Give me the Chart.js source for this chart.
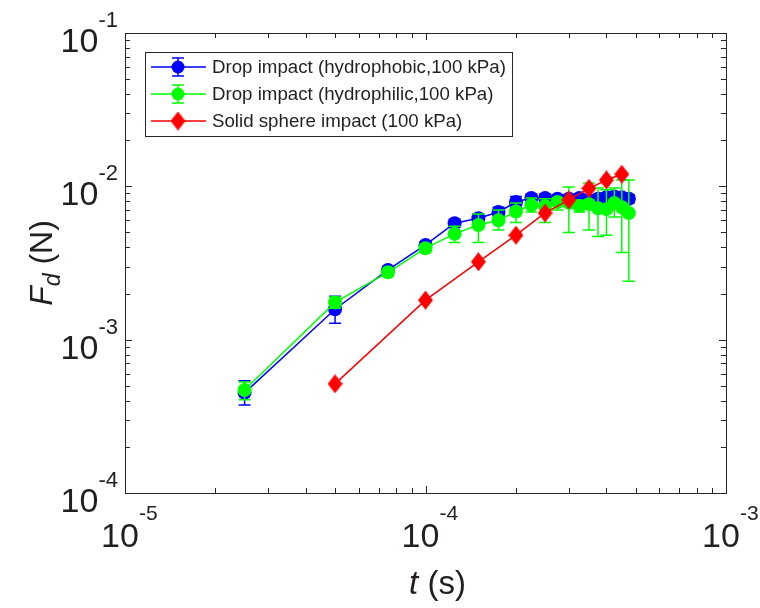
<!DOCTYPE html>
<html>
<head>
    <meta charset="utf-8"/>
    <title>Fd vs t</title>
    <script src="https://cdn.jsdelivr.net/npm/chart.js"></script>
    <style>
        body { margin: 0; background: #fff; }
        #wrap { width: 760px; height: 608px; }
    </style>
</head>
<body>
    <div id="wrap">
        <canvas id="fdChart" width="760" height="608"></canvas>
    </div>

    <script>
        // Tiempos (s)
        const tDrop = [2.5e-5, 5e-5, 7.5e-5, 1e-4, 1.25e-4, 1.5e-4, 1.75e-4, 2e-4, 2.25e-4, 2.5e-4,
                       2.75e-4, 3e-4, 3.25e-4, 3.5e-4, 3.75e-4, 4e-4, 4.25e-4, 4.5e-4, 4.75e-4];
        const tSolid = [5e-5, 1e-4, 1.5e-4, 2e-4, 2.5e-4, 3e-4, 3.5e-4, 4e-4, 4.5e-4];

        // Fuerza (N) - gota hidrofobica
        const fdPhobic   = [4.5e-4, 1.58e-3, 2.85e-3, 4.15e-3, 5.75e-3, 6.2e-3, 6.8e-3, 7.9e-3, 8.4e-3, 8.4e-3,
                            8.3e-3, 8.3e-3, 8.4e-3, 8.15e-3, 8.3e-3, 8.5e-3, 8.6e-3, 8.5e-3, 8.3e-3];
        const phobicHi   = [5.4e-4, 1.92e-3, 3.0e-3, 4.35e-3, 6.1e-3, 6.6e-3, 7.3e-3, 8.6e-3, 8.9e-3, 8.9e-3,
                            8.8e-3, 8.8e-3, 8.9e-3, 8.6e-3, 8.8e-3, 9.0e-3, 9.1e-3, 9.0e-3, 8.8e-3];
        const phobicLo   = [3.75e-4, 1.28e-3, 2.7e-3, 3.95e-3, 5.4e-3, 5.8e-3, 6.4e-3, 7.3e-3, 7.9e-3, 7.9e-3,
                            7.8e-3, 7.8e-3, 7.9e-3, 7.7e-3, 7.8e-3, 8.0e-3, 8.1e-3, 8.0e-3, 7.8e-3];

        // Fuerza (N) - gota hidrofilica
        const fdPhilic   = [4.7e-4, 1.75e-3, 2.75e-3, 3.95e-3, 4.9e-3, 5.6e-3, 6.0e-3, 6.85e-3, 7.55e-3, 7.45e-3,
                            7.9e-3, 7.8e-3, 7.45e-3, 7.65e-3, 7.2e-3, 7.1e-3, 7.8e-3, 7.3e-3, 6.7e-3];
        const philicHi   = [5.3e-4, 1.9e-3, 2.9e-3, 4.2e-3, 5.5e-3, 6.6e-3, 7.0e-3, 7.8e-3, 8.4e-3, 8.3e-3,
                            8.4e-3, 9.9e-3, 8.1e-3, 1.05e-2, 9.75e-3, 9.5e-3, 9.75e-3, 1.1e-2, 1.1e-2];
        const philicLo   = [4.05e-4, 1.6e-3, 2.6e-3, 3.7e-3, 4.3e-3, 4.3e-3, 5.2e-3, 5.8e-3, 6.8e-3, 5.8e-3,
                            7.0e-3, 5.0e-3, 6.8e-3, 5.2e-3, 4.7e-3, 4.8e-3, 6.3e-3, 3.7e-3, 2.4e-3];

        // Fuerza (N) - esfera solida
        const fdSolid    = [5.15e-4, 1.81e-3, 3.22e-3, 4.8e-3, 6.7e-3, 8.15e-3, 9.7e-3, 1.1e-2, 1.2e-2];

        // Ejes
        const xDecades = [1e-5, 1e-4, 1e-3];
        const xExp     = ['-5', '-4', '-3'];
        const yDecades = [1e-4, 1e-3, 1e-2, 1e-1];
        const yExp     = ['-4', '-3', '-2', '-1'];

        const legendLabels = [
            'Drop impact (hydrophobic,100 kPa)',
            'Drop impact (hydrophilic,100 kPa)',
            'Solid sphere impact (100 kPa)'
        ];

        const FONT = '"Liberation Sans", Arial, Helvetica, sans-serif';
        const AXIS = '#262626';
        const TEXT = '#231f20';

        const pts = (xs, ys) => xs.map((x, i) => ({ x: x, y: ys[i] }));

        // rombo (mas alto que ancho)
        function makeDiamond(w, h, color) {
            const c = document.createElement('canvas');
            c.width = w; c.height = h;
            const g = c.getContext('2d');
            g.fillStyle = color;
            g.beginPath();
            g.moveTo(w / 2, 0); g.lineTo(w, h / 2); g.lineTo(w / 2, h); g.lineTo(0, h / 2);
            g.closePath(); g.fill();
            return c;
        }
        const diamond = makeDiamond(15, 19, '#ff0000');

        // barras de error, antes de cada serie
        const errorBars = {
            id: 'errorBars',
            beforeDatasetDraw(chart, args) {
                const ds = chart.data.datasets[args.index];
                if (!ds.errHi) return;
                const xs = chart.scales.x, ys = chart.scales.y, ctx = chart.ctx;
                const a = chart.chartArea;
                ctx.save();
                ctx.beginPath();
                ctx.rect(a.left, a.top, a.right - a.left, a.bottom - a.top);
                ctx.clip();
                ctx.strokeStyle = ds.borderColor;
                ctx.lineWidth = 1.5;
                ds.data.forEach((p, i) => {
                    const px = xs.getPixelForValue(p.x);
                    const top = ys.getPixelForValue(ds.errHi[i]);
                    const bot = ys.getPixelForValue(ds.errLo[i]);
                    ctx.beginPath();
                    ctx.moveTo(px, top); ctx.lineTo(px, bot);
                    ctx.moveTo(px - 6, top); ctx.lineTo(px + 6, top);
                    ctx.moveTo(px - 6, bot); ctx.lineTo(px + 6, bot);
                    ctx.stroke();
                });
                ctx.restore();
            }
        };

        function minorValues(decades) {
            const out = [];
            for (let d = 0; d < decades.length - 1; d++) {
                for (let k = 2; k <= 9; k++) out.push(k * decades[d]);
            }
            return out;
        }

        // marco, marcas, etiquetas y leyenda
        const axesFrame = {
            id: 'axesFrame',
            afterDraw(chart) {
                const ctx = chart.ctx, a = chart.chartArea;
                const xs = chart.scales.x, ys = chart.scales.y;
                ctx.save();
                ctx.strokeStyle = AXIS;
                ctx.lineWidth = 1;

                // marcas hacia dentro, en los cuatro lados
                ctx.beginPath();
                const tick = (v, len, horiz) => {
                    if (horiz) {
                        const px = Math.round(xs.getPixelForValue(v)) + 0.5;
                        ctx.moveTo(px, a.bottom); ctx.lineTo(px, a.bottom - len);
                        ctx.moveTo(px, a.top); ctx.lineTo(px, a.top + len);
                    } else {
                        const py = Math.round(ys.getPixelForValue(v)) + 0.5;
                        ctx.moveTo(a.left, py); ctx.lineTo(a.left + len, py);
                        ctx.moveTo(a.right, py); ctx.lineTo(a.right - len, py);
                    }
                };
                xDecades.forEach(v => tick(v, 7, true));
                minorValues(xDecades).forEach(v => tick(v, 5, true));
                yDecades.forEach(v => tick(v, 7, false));
                minorValues(yDecades).forEach(v => tick(v, 5, false));
                ctx.stroke();

                ctx.strokeRect(Math.round(a.left) + 0.5, Math.round(a.top) + 0.5,
                               Math.round(a.right - a.left), Math.round(a.bottom - a.top));

                // etiquetas 10^n
                ctx.fillStyle = TEXT;
                ctx.textBaseline = 'alphabetic';
                xDecades.forEach((v, i) => {
                    const px = xs.getPixelForValue(v) - 5;
                    ctx.font = '34px ' + FONT;
                    ctx.textAlign = 'center';
                    ctx.fillText('10', px, a.bottom + 54);
                    const w = ctx.measureText('10').width;
                    ctx.font = '21px ' + FONT;
                    ctx.textAlign = 'left';
                    ctx.fillText(xExp[i], px + w / 2, a.bottom + 27);
                });
                yDecades.forEach((v, i) => {
                    const py = ys.getPixelForValue(v);
                    ctx.font = '22px ' + FONT;
                    ctx.textAlign = 'right';
                    ctx.fillText(yExp[i], a.left - 7, py - 6);
                    const w = ctx.measureText(yExp[i]).width;
                    ctx.font = '34px ' + FONT;
                    ctx.fillText('10', a.left - 7 - w, py + 19);
                });

                // titulo eje x: t (s)
                ctx.font = 'italic 33px ' + FONT;
                const tW = ctx.measureText('t').width;
                ctx.font = '33px ' + FONT;
                const sW = ctx.measureText(' (s)').width;
                let x0 = (a.left + a.right) / 2 + 12 - (tW + sW) / 2;
                ctx.textAlign = 'left';
                ctx.font = 'italic 33px ' + FONT;
                ctx.fillText('t', x0, 594);
                ctx.font = '33px ' + FONT;
                ctx.fillText(' (s)', x0 + tW, 594);

                // titulo eje y: F_d (N)
                ctx.save();
                ctx.translate(52, (a.top + a.bottom) / 2);
                ctx.rotate(-Math.PI / 2);
                ctx.font = 'italic 32px ' + FONT;
                const fW = ctx.measureText('F').width;
                ctx.font = 'italic 23px ' + FONT;
                const dW = ctx.measureText('d').width;
                ctx.font = '32px ' + FONT;
                const nW = ctx.measureText(' (N)').width;
                let y0 = -(fW + dW + nW) / 2;
                ctx.font = 'italic 32px ' + FONT;
                ctx.fillText('F', y0, 0);
                ctx.font = 'italic 23px ' + FONT;
                ctx.fillText('d', y0 + fW, 8);
                ctx.font = '32px ' + FONT;
                ctx.fillText(' (N)', y0 + fW + dW, 0);
                ctx.restore();

                // leyenda
                const L = { x: 145, y: 52, w: 367, h: 84 };
                ctx.fillStyle = '#fff';
                ctx.fillRect(L.x, L.y, L.w, L.h);
                ctx.strokeStyle = AXIS;
                ctx.lineWidth = 1;
                ctx.strokeRect(L.x + 0.5, L.y + 0.5, L.w, L.h);
                const colors = ['#0000ff', '#00ff00', '#ff0000'];
                const rows = [67, 94, 121];
                rows.forEach((ry, i) => {
                    ctx.strokeStyle = colors[i];
                    ctx.lineWidth = 1.5;
                    ctx.beginPath();
                    ctx.moveTo(151, ry); ctx.lineTo(206, ry);
                    if (i < 2) {
                        ctx.moveTo(178, ry - 9); ctx.lineTo(178, ry + 9);
                        ctx.moveTo(172, ry - 9); ctx.lineTo(184, ry - 9);
                        ctx.moveTo(172, ry + 9); ctx.lineTo(184, ry + 9);
                    }
                    ctx.stroke();
                    if (i < 2) {
                        ctx.fillStyle = colors[i];
                        ctx.beginPath();
                        ctx.arc(178, ry, 6.5, 0, Math.PI * 2);
                        ctx.fill();
                    } else {
                        ctx.drawImage(diamond, 178 - 7.5, ry - 9.5);
                    }
                    ctx.fillStyle = TEXT;
                    ctx.font = '18.7px ' + FONT;
                    ctx.textAlign = 'left';
                    ctx.textBaseline = 'middle';
                    ctx.fillText(legendLabels[i], 212, ry + 1);
                });
                ctx.restore();
            }
        };

        function setupChart() {
            const ctx = document.getElementById('fdChart').getContext('2d');
            new Chart(ctx, {
                type: 'line',
                data: {
                    datasets: [
                        {
                            label: legendLabels[0],
                            data: pts(tDrop, fdPhobic),
                            errHi: phobicHi, errLo: phobicLo,
                            borderColor: '#0000ff', backgroundColor: '#0000ff',
                            borderWidth: 1.5, pointRadius: 7, pointBorderWidth: 0,
                            order: 3
                        },
                        {
                            label: legendLabels[1],
                            data: pts(tDrop, fdPhilic),
                            errHi: philicHi, errLo: philicLo,
                            borderColor: '#00ff00', backgroundColor: '#00ff00',
                            borderWidth: 1.5, pointRadius: 7, pointBorderWidth: 0,
                            order: 2
                        },
                        {
                            label: legendLabels[2],
                            data: pts(tSolid, fdSolid),
                            borderColor: '#ff0000', backgroundColor: '#ff0000',
                            borderWidth: 1.5, pointStyle: diamond, pointRadius: 8,
                            order: 1
                        }
                    ]
                },
                options: {
                    responsive: false,
                    animation: false,
                    events: [],
                    layout: { padding: { left: 125, top: 33, right: 34, bottom: 115 } },
                    plugins: { legend: { display: false }, tooltip: { enabled: false } },
                    scales: {
                        x: { type: 'logarithmic', min: 1e-5, max: 1e-3, display: false },
                        y: { type: 'logarithmic', min: 1e-4, max: 1e-1, display: false }
                    }
                },
                plugins: [errorBars, axesFrame]
            });
        }

        document.addEventListener('DOMContentLoaded', setupChart);
    </script>
</body>
</html>
